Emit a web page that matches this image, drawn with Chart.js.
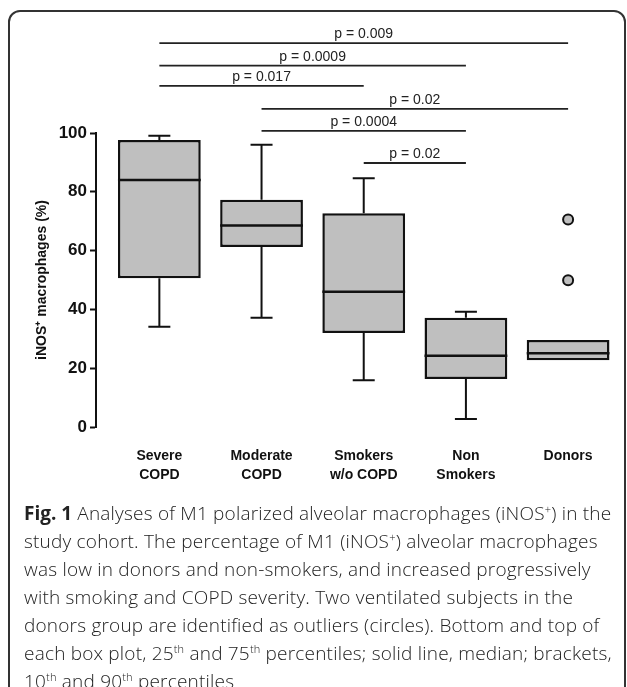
<!DOCTYPE html>
<html>
<head>
<meta charset="utf-8">
<script src="https://cdn.jsdelivr.net/npm/chart.js@4.4.1/dist/chart.umd.min.js"></script>
<style>
  html, body { margin: 0; padding: 0; background: #fff; overflow: hidden; width: 627px; height: 687px; }
  #frame { position: absolute; left: 8px; top: 10px; width: 614px; height: 760px; border: 2px solid #333; border-radius: 12px; }
  #wrap { position: absolute; left: 0; top: 0; width: 627px; height: 500px; }
  #caption { position: absolute; left: 24px; top: 499px; font-family: "Open Sans", sans-serif; font-weight: 300; font-size: 19px; letter-spacing: 0.2px; line-height: 28px; white-space: nowrap; color: #222; }
  #caption b { font-weight: 700; letter-spacing: 0; }
  #caption sup { font-size: 11px; line-height: 0; }
</style>
</head>
<body>
<div id="frame"></div>
<div id="wrap"><canvas id="chart" width="627" height="500"></canvas></div>
<div id="caption">
<b>Fig. 1</b> Analyses of M1 polarized alveolar macrophages (iNOS<sup>+</sup>) in the<br>
study cohort. The percentage of M1 (iNOS<sup>+</sup>) alveolar macrophages<br>
was low in donors and non-smokers, and increased progressively<br>
with smoking and COPD severity. Two ventilated subjects in the<br>
donors group are identified as outliers (circles). Bottom and top of<br>
each box plot, 25<sup>th</sup> and 75<sup>th</sup> percentiles; solid line, median; brackets,<br>
10<sup>th</sup> and 90<sup>th</sup> percentiles
</div>
<script>
const groups = [["Severe", "COPD"], ["Moderate", "COPD"], ["Smokers", "w/o COPD"], ["Non", "Smokers"], ["Donors"]];
const q1 = [50.6, 61.2, 32.0, 16.3, 22.7];
const median = [84.0, 68.5, 46.0, 24.2, 25.1];
const q3 = [97.6, 77.3, 72.7, 37.2, 29.6];
const p10 = [34.1, 37.2, 15.9, 2.7, null];
const p90 = [99.1, 96.0, 84.6, 39.2, null];
const outlierGroup = [5, 5];
const outlierValue = [70.6, 49.9];
const yTicks = [0, 20, 40, 60, 80, 100];

// significance brackets: group from -> group to, height in % units
const pLabels = ["p = 0.009", "p = 0.0009", "p = 0.017", "p = 0.02", "p = 0.0004", "p = 0.02"];
const pFrom = [1, 1, 1, 2, 2, 3];
const pTo = [5, 4, 3, 5, 4, 4];
const pLevel = [130.6, 122.9, 116.0, 108.2, 100.7, 89.8];

const ink = "#111";

const boxParts = {
  id: "boxParts",
  afterDatasetsDraw(chart) {
    const ctx = chart.ctx;
    const y = chart.scales.y;
    const meta = chart.getDatasetMeta(0);
    ctx.save();
    ctx.strokeStyle = ink;
    ctx.lineCap = "butt";
    meta.data.forEach((bar, i) => {
      const cx = bar.x;
      const half = bar.width / 2;
      ctx.lineWidth = 2;
      if (p90[i] != null) {
        ctx.beginPath();
        ctx.moveTo(cx, y.getPixelForValue(q3[i]));
        ctx.lineTo(cx, y.getPixelForValue(p90[i]));
        ctx.moveTo(cx - 11, y.getPixelForValue(p90[i]));
        ctx.lineTo(cx + 11, y.getPixelForValue(p90[i]));
        ctx.stroke();
      }
      if (p10[i] != null) {
        ctx.beginPath();
        ctx.moveTo(cx, y.getPixelForValue(q1[i]));
        ctx.lineTo(cx, y.getPixelForValue(p10[i]));
        ctx.moveTo(cx - 11, y.getPixelForValue(p10[i]));
        ctx.lineTo(cx + 11, y.getPixelForValue(p10[i]));
        ctx.stroke();
      }
      ctx.lineWidth = 2.5;
      ctx.beginPath();
      ctx.moveTo(cx - half, y.getPixelForValue(median[i]));
      ctx.lineTo(cx + half, y.getPixelForValue(median[i]));
      ctx.stroke();
    });
    ctx.restore();
  },
  afterDraw(chart) {
    const ctx = chart.ctx;
    const x = chart.scales.x;
    const y = chart.scales.y;
    ctx.save();
    // brackets
    ctx.strokeStyle = "#222";
    ctx.fillStyle = "#222";
    ctx.lineWidth = 1.8;
    ctx.font = "14px 'Liberation Sans', Arial, sans-serif";
    ctx.textAlign = "center";
    ctx.textBaseline = "alphabetic";
    pLabels.forEach((lab, i) => {
      const x0 = x.getPixelForValue(pFrom[i]);
      const x1 = x.getPixelForValue(pTo[i]);
      const yy = y.getPixelForValue(pLevel[i]);
      ctx.beginPath();
      ctx.moveTo(x0, yy);
      ctx.lineTo(x1, yy);
      ctx.stroke();
      ctx.fillText(lab, (x0 + x1) / 2, yy - 5);
    });
    // y axis title
    const cy = (y.getPixelForValue(0) + y.getPixelForValue(100)) / 2;
    ctx.translate(42, cy);
    ctx.rotate(-Math.PI / 2);
    ctx.fillStyle = ink;
    ctx.textBaseline = "middle";
    ctx.font = "bold 14px 'Liberation Sans', Arial, sans-serif";
    ctx.fillText("iNOS\u207A macrophages (%)", 0, 0);
    ctx.restore();
  }
};

new Chart(document.getElementById("chart"), {
  type: "bar",
  data: {
    datasets: [{
      type: "bar",
      data: groups.map((g, i) => ({ x: i + 1, y: [q1[i], q3[i]] })),
      backgroundColor: "#bfbfbf",
      borderColor: ink,
      borderWidth: 2.5,
      borderSkipped: false,
      barPercentage: 0.81,
      categoryPercentage: 1
    }, {
      type: "scatter",
      data: outlierGroup.map((g, i) => ({ x: g, y: outlierValue[i] })),
      pointRadius: 5,
      pointBackgroundColor: "#bfbfbf",
      pointBorderColor: ink,
      pointBorderWidth: 2
    }]
  },
  options: {
    responsive: false,
    animation: false,
    devicePixelRatio: 1,
    layout: { padding: { top: 133, right: 17, left: 0, bottom: 0 } },
    plugins: { legend: { display: false }, tooltip: { enabled: false } },
    scales: {
      x: {
        type: "linear",
        offset: false,
        min: 0.38,
        max: 5.41,
        afterFit: s => { s.height = 73; },
        afterBuildTicks: s => { s.ticks = groups.map((g, i) => ({ value: i + 1 })); },
        grid: { display: false, offset: false },
        border: { display: false },
        ticks: {
          callback: v => groups[v - 1],
          color: ink,
          font: { family: "'Liberation Sans', Arial, sans-serif", weight: "bold", size: 14, lineHeight: 1.36 },
          padding: 12,
          maxRotation: 0,
          autoSkip: false
        }
      },
      y: {
        min: 0,
        max: 100,
        afterFit: s => { s.width = 96; },
        afterBuildTicks: s => { s.ticks = yTicks.map(v => ({ value: v })); },
        border: { display: true, color: ink, width: 2 },
        grid: { display: true, drawOnChartArea: false, drawTicks: true, tickLength: 6, tickColor: ink, tickWidth: 2 },
        ticks: {
          color: ink,
          font: { family: "'Liberation Sans', Arial, sans-serif", weight: "bold", size: 17 },
          padding: 3
        }
      }
    }
  },
  plugins: [boxParts]
});
</script>
</body>
</html>
